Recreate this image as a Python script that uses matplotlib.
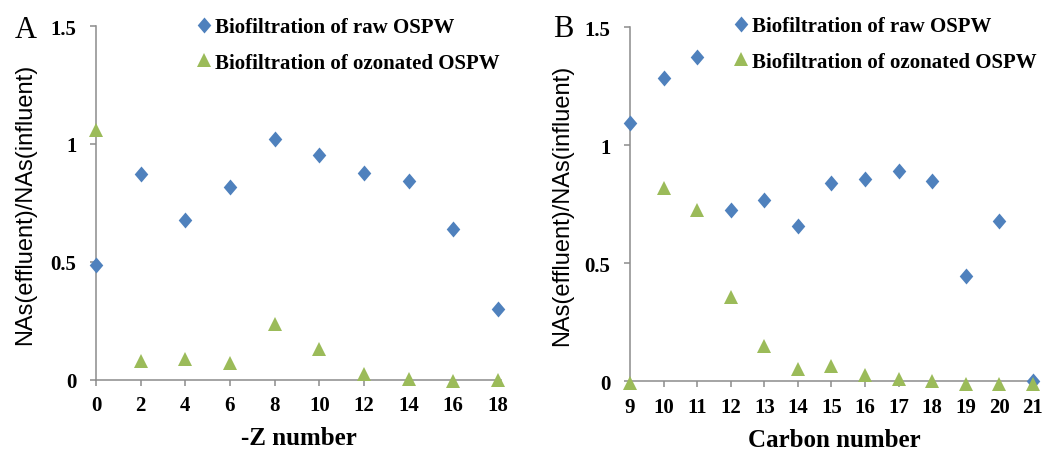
import matplotlib
matplotlib.use("Agg")
import matplotlib.pyplot as plt

# ---- data ----
z_numbers = [0, 2, 4, 6, 8, 10, 12, 14, 16, 18]
raw_z = [0.489, 0.872, 0.679, 0.816, 1.021, 0.953, 0.878, 0.845, 0.640, 0.300]
ozon_z = [1.061, 0.080, 0.090, 0.072, 0.236, 0.130, 0.024, 0.006, -0.003, 0.0]

carbon_numbers = [9, 10, 11, 12, 13, 14, 15, 16, 17, 18, 19, 20, 21]
raw_c = [1.094, 1.285, 1.375, 0.727, 0.768, 0.659, 0.839, 0.857, 0.891, 0.850, 0.447, 0.680, 0.0]
ozon_c = [-0.006, 0.819, 0.727, 0.359, 0.151, 0.052, 0.063, 0.027, 0.011, 0.003, -0.011, -0.011, -0.011]

y_ticks = [0, 0.5, 1, 1.5]
y_tick_labels = ["0", "0.5", "1", "1.5"]
z_ticks = [0, 2, 4, 6, 8, 10, 12, 14, 16, 18]
c_ticks = list(range(9, 22))

legend_labels = ["Biofiltration of raw OSPW", "Biofiltration of ozonated OSPW"]
ylabel_text = "NAs(effluent)/NAs(influent)"

# ---- style ----
BLUE = "#4F81BD"
GREEN = "#9BBB59"
AXC = "#8C8C8C"
SERIF = "Liberation Serif"
SANS = "Liberation Sans"
diamond = [(0, 1), (0.85, 0), (0, -1), (-0.85, 0), (0, 1)]

W, H = 1044, 452
fig = plt.figure(figsize=(W / 100, H / 100), dpi=100)


def px(x0, y0, x1, y1):
    return [x0 / W, (H - y1) / H, (x1 - x0) / W, (y1 - y0) / H]


def style_axes(ax, xticks, xlim, xlabel, ylabel_x):
    ax.set_ylim(0, 1.5)
    ax.set_xlim(*xlim)
    for s in ("top", "right"):
        ax.spines[s].set_visible(False)
    for s in ("left", "bottom"):
        ax.spines[s].set_color(AXC)
        ax.spines[s].set_linewidth(1.1)
    ax.set_yticks(y_ticks)
    ax.set_yticklabels(y_tick_labels)
    ax.set_xticks(xticks)
    ax.set_xticklabels([str(t) for t in xticks])
    ax.tick_params(axis="both", direction="out", length=4, width=1.1, color=AXC,
                   labelsize=15)
    ax.tick_params(axis="y", pad=10)
    ax.tick_params(axis="x", pad=7)
    for lab in ax.get_xticklabels() + ax.get_yticklabels():
        lab.set_fontfamily(SERIF)
        lab.set_fontweight("bold")
    ax.set_xlabel(xlabel, fontsize=18, fontweight="bold", fontfamily=SERIF, va="baseline")
    ax.xaxis.set_label_coords(0.5, -0.182)
    ax.set_ylabel(ylabel_text, fontsize=17, fontfamily=SANS, va="center")
    ax.yaxis.set_label_coords(ylabel_x, 0.5)


def draw(ax, xs, raw, ozon, legend_anchor):
    h1, = ax.plot(xs, raw, linestyle="none", marker=diamond, markersize=11.5,
                  color=BLUE, markeredgewidth=0, clip_on=False, zorder=3)
    h2, = ax.plot(xs, ozon, linestyle="none", marker="^", markersize=10.5,
                  color=GREEN, markeredgewidth=0, clip_on=False, zorder=4)
    leg = ax.legend([h1, h2], legend_labels, loc="upper left",
                    bbox_to_anchor=legend_anchor, bbox_transform=fig.transFigure,
                    frameon=False, borderpad=0, borderaxespad=0, handlelength=1.0,
                    handletextpad=0.05, labelspacing=0.75,
                    prop={"family": SERIF, "weight": "bold", "size": 15})
    return leg


# Panel A
axA = fig.add_axes(px(96, 27, 96 + 18.15 * 22.33, 381))
draw(axA, z_numbers, raw_z, ozon_z, (193.6 / W, (H - 18) / H))
style_axes(axA, z_ticks, (0, 18.15), "-Z number", -0.175)

# Panel B
axB = fig.add_axes(px(630, 28, 630 + 12.15 * 33.58, 382.3))
draw(axB, carbon_numbers, raw_c, ozon_c, (730.3 / W, (H - 17) / H))
style_axes(axB, c_ticks, (9, 21.15), "Carbon number", -0.167)

fig.text(15 / W, (H - 38) / H, "A", fontsize=22, fontfamily=SERIF, va="baseline")
fig.text(553 / W, (H - 37) / H, "B", fontsize=22, fontfamily=SERIF, va="baseline")

fig.savefig("out.png", dpi=100)
